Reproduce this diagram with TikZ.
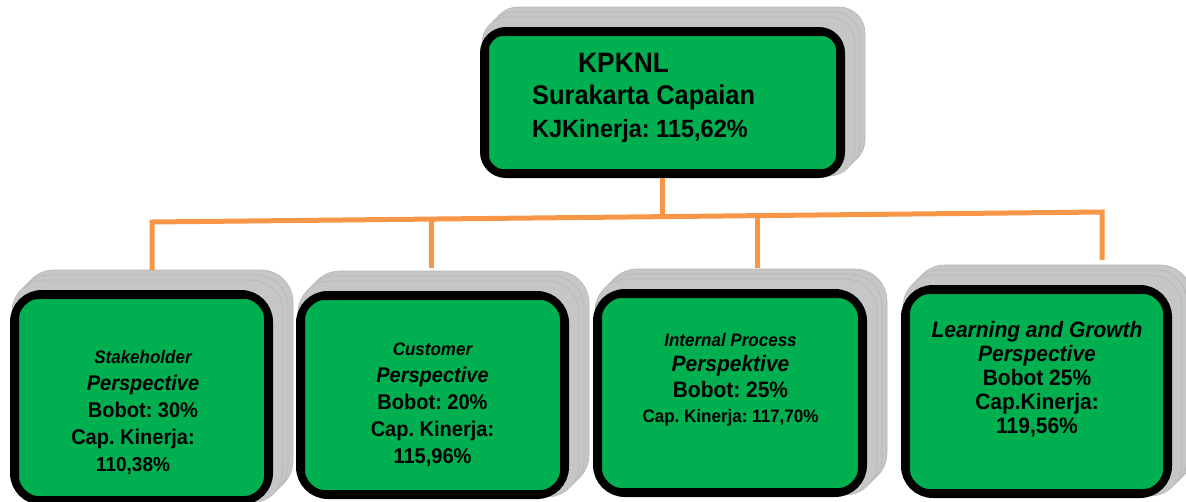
\documentclass[tikz,border=0pt]{standalone}
\usepackage{fontspec}
\setmainfont[FakeStretch=0.94]{Liberation Sans}
\usetikzlibrary{backgrounds}
\definecolor{kgreen}{RGB}{0,176,80}
\definecolor{korange}{RGB}{247,150,70}
\definecolor{kshadow}{RGB}{198,198,198}
\definecolor{kshadowedge}{RGB}{182,182,182}
\tikzset{
  kbox/.style={draw=black, line width=8pt, fill=kgreen, rounded corners=#1, inner sep=0pt},
  kinner/.style={draw=black, line width=2pt, rounded corners=#1},
  kshade/.style={fill=kshadow, draw=kshadowedge, line width=0.6pt, rounded corners=#1},
  conn/.style={draw=korange, line width=5pt, line join=miter},
  ktext/.style={anchor=base, inner sep=0pt, font=\bfseries\frenchspacing},
}
\newcommand{\fs}[2]{\fontsize{#1}{#2}\selectfont}
\begin{document}
\begin{tikzpicture}[x=1pt,y=-1pt]
\useasboundingbox (0,0) rectangle (1186,501);
% boxes
\node[kbox=22pt, minimum width=357pt, minimum height=143pt] (top) at (662.5,102.5) {};
\node[kbox=28pt, minimum width=255pt, minimum height=207pt] (b1) at (141.5,397.5) {};
\node[kbox=28pt, minimum width=265pt, minimum height=200pt] (b2) at (432.5,395) {};
\node[kbox=28pt, minimum width=266pt, minimum height=200pt] (b3) at (730,393) {};
\node[kbox=28pt, minimum width=263pt, minimum height=205pt] (b4) at (1036.5,391.5) {};
% inner lines
\foreach \n/\r in {top/14pt,b1/20pt,b2/20pt,b3/20pt,b4/20pt}{
  \draw[kinner=\r] ([shift={(8,8)}]\n.north west) rectangle ([shift={(-8,-8)}]\n.south east);
}
% shadows
\begin{scope}[on background layer]
\foreach \n/\r in {top/26pt,b1/32pt,b2/32pt,b3/32pt,b4/32pt}{
  \foreach \k in {16,11,6}{
    \path[kshade=\r] ([shift={(\k-4,-\k-4)}]\n.north west) rectangle ([shift={(\k+4,-\k+4)}]\n.south east);
  }
}
\end{scope}
% connectors
\coordinate (j0) at (662.5,216.6);
\coordinate (j1) at (152,222);
\coordinate (j2) at (431,219.1);
\coordinate (j3) at (757,215.6);
\coordinate (j4) at (1102,212);
\coordinate (d1) at (152,270);
\coordinate (d2) at (431,268);
\coordinate (d3) at (757,268);
\coordinate (d4) at (1102,260);
\draw[conn] (top.south) -- (j0);
\draw[conn] (d1) -- (j1) -- (j4) -- (d4);
\draw[conn] (j2) -- (d2);
\draw[conn] (j3) -- (d3);
% texts
\node[ktext, anchor=base west] (ttop) at (532,72) {\fs{27}{32.5}\begin{tabular}[t]{@{}l@{}}
\hspace*{46pt}\fs{28}{32.5}KPKNL\\
\fs{27}{32.5}Surakarta Capaian\\
\fs{25}{32.5}KJKinerja: 115,62\%
\end{tabular}};
\node[ktext] (t1) at (143,363) {\fs{21.3}{27}\begin{tabular}[t]{@{}c@{}}
\fs{18.1}{27}\itshape Stakeholder\\
\itshape Perspective\\
Bobot: 30\%\\
Cap. Kinerja:\kern20pt\\
\fs{20.2}{27}110,38\%\kern20pt
\end{tabular}};
\node[ktext] (t2) at (432.5,355) {\fs{21.3}{27}\begin{tabular}[t]{@{}c@{}}
\fs{18.1}{27}\itshape Customer\\
\itshape Perspective\\
Bobot: 20\%\\
Cap. Kinerja:\\
115,96\%
\end{tabular}};
\node[ktext] (t3) at (730.5,346) {\fs{22.3}{25.5}\begin{tabular}[t]{@{}c@{}}
\fs{18.1}{25.5}\itshape Internal Process\\
\itshape Perspektive\\
Bobot: 25\%\\
\fs{18.1}{25.5}Cap. Kinerja: 117,70\%
\end{tabular}};
\node[ktext] (t4) at (1037,337) {\fs{22.3}{24}\begin{tabular}[t]{@{}c@{}}
\itshape Learning and Growth\\
\itshape Perspective\\
Bobot 25\%\\
Cap.Kinerja:\\
119,56\%
\end{tabular}};
\end{tikzpicture}
\end{document}
